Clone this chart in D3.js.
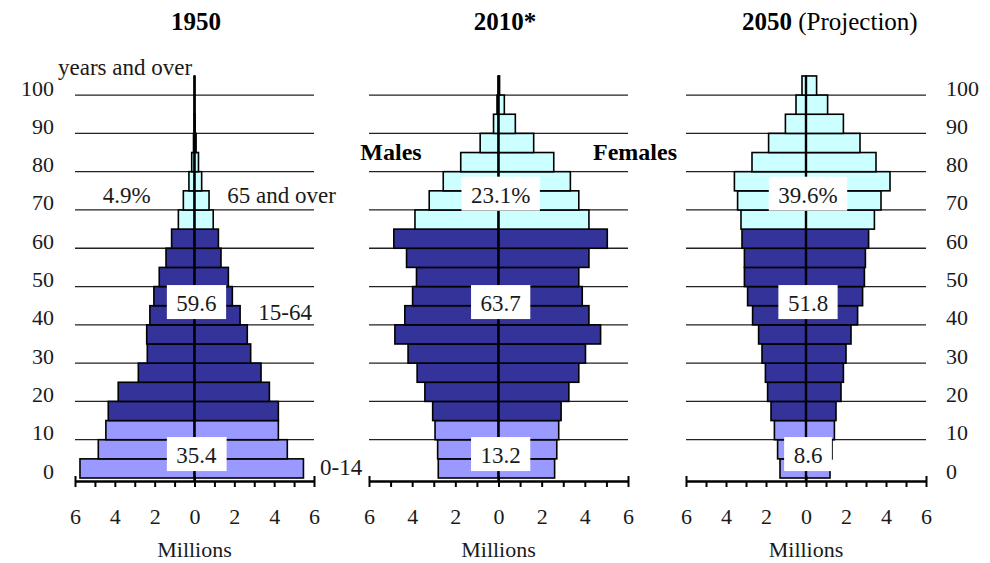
<!DOCTYPE html>
<html>
<head>
<meta charset="utf-8">
<script src="https://cdn.jsdelivr.net/npm/d3@7"></script>
<style>
  body { margin: 0; background: #fff; }
  svg { display: block; font-family: "Liberation Serif", "Times New Roman", serif; }
</style>
</head>
<body>
<script>
// ---------------- DATA ----------------
const ageGroups = ["0-4","5-9","10-14","15-19","20-24","25-29","30-34","35-39","40-44","45-49",
  "50-54","55-59","60-64","65-69","70-74","75-79","80-84","85-89","90-94","95-99","100+"];
const ageTicks = [0,10,20,30,40,50,60,70,80,90,100];
const xTickValues = [-6,-5,-4,-3,-2,-1,0,1,2,3,4,5,6];
const years = ["1950", "2010*", "2050"];
const yearNotes = ["", "", " (Projection)"];

// population in millions
const males1950   = [5.75,4.83,4.45,4.33,3.83,2.82,2.37,2.40,2.24,2.04,1.77,1.43,1.15,0.81,0.56,0.28,0.14,0.05,0.02,0.01,0.005];
const females1950 = [5.47,4.66,4.21,4.21,3.76,3.34,2.82,2.65,2.29,1.90,1.70,1.33,1.20,0.94,0.73,0.36,0.20,0.08,0.03,0.01,0.005];
const males2010   = [2.79,2.82,2.94,3.05,3.41,3.77,4.19,4.80,4.34,3.98,3.80,4.26,4.85,3.87,3.21,2.56,1.75,0.85,0.23,0.07,0.01];
const females2010 = [2.60,2.70,2.79,2.90,3.26,3.72,4.03,4.73,4.19,3.88,3.72,4.19,5.04,4.19,3.72,3.33,2.56,1.63,0.78,0.27,0.05];
const males2050   = [1.30,1.42,1.58,1.75,1.92,2.03,2.20,2.37,2.67,2.92,3.08,3.08,3.20,3.25,3.42,3.58,2.70,1.87,1.03,0.50,0.20];
const females2050 = [1.20,1.30,1.42,1.50,1.75,1.87,2.00,2.25,2.58,2.83,2.92,2.97,3.13,3.42,3.75,4.20,3.50,2.70,1.87,1.08,0.53];

// share of population (%) per broad age group: 0-14, 15-64, 65 and over
const share1950 = ["35.4", "59.6", "4.9%"];
const share2010 = ["13.2", "63.7", "23.1%"];
const share2050 = ["8.6", "51.8", "39.6%"];
const groupNames = ["0-14", "15-64", "65 and over"];

// ---------------- LAYOUT ----------------
const W = 990, H = 563;
const colors = ["#9999ff", "#333399", "#ccffff"];
const groupOf = i => (i < 3 ? 0 : i < 13 ? 1 : 2);

const panels = [
  { males: males1950, females: females1950, share: share1950, range: [75, 314], titleX: 196 },
  { males: males2010, females: females2010, share: share2010, range: [369, 628], titleX: 505 },
  { males: males2050, females: females2050, share: share2050, range: [686, 926], titleX: 742 }
];

const y = d3.scaleLinear().domain([0, 105]).range([478, 75.95]);
const bandTop = i => y((i + 1) * 5);
const bandBot = i => y(i * 5);

const svg = d3.select("body").append("svg").attr("width", W).attr("height", H);

const txtColor = "#1a1a1a";

panels.forEach((p, pi) => {
  const x = d3.scaleLinear().domain([-6, 6]).range(p.range);
  const g = svg.append("g");

  // gridlines
  g.selectAll("line.grid").data(ageTicks.filter(v => v > 0)).join("line")
    .attr("class", "grid")
    .attr("x1", p.range[0]).attr("x2", p.range[1])
    .attr("y1", d => y(d)).attr("y2", d => y(d))
    .attr("stroke", "#222").attr("stroke-width", 1.3);

  // bars
  const rows = ageGroups.map((a, i) => ({ i, m: p.males[i], f: p.females[i] }));
  g.selectAll("rect.m").data(rows).join("rect")
    .attr("class", "m")
    .attr("x", d => x(-d.m)).attr("width", d => x(0) - x(-d.m))
    .attr("y", d => bandTop(d.i)).attr("height", d => bandBot(d.i) - bandTop(d.i))
    .attr("fill", d => colors[groupOf(d.i)])
    .attr("stroke", "#000").attr("stroke-width", 1.6);
  g.selectAll("rect.f").data(rows).join("rect")
    .attr("class", "f")
    .attr("x", x(0)).attr("width", d => x(d.f) - x(0))
    .attr("y", d => bandTop(d.i)).attr("height", d => bandBot(d.i) - bandTop(d.i))
    .attr("fill", d => colors[groupOf(d.i)])
    .attr("stroke", "#000").attr("stroke-width", 1.6);

  // centre line
  g.append("line")
    .attr("x1", x(0)).attr("x2", x(0))
    .attr("y1", y(0) + 3).attr("y2", y(105))
    .attr("stroke", "#000").attr("stroke-width", 2.4);

  // x axis
  const axis = d3.axisBottom(x).tickValues(xTickValues)
    .tickFormat(d => (d % 2 === 0 ? Math.abs(d) : ""))
    .tickSize(6).tickSizeOuter(0).tickPadding(21);
  const ax = g.append("g").attr("transform", `translate(0,${y(0) + 3})`).call(axis);
  ax.select(".domain").attr("stroke", "#000").attr("stroke-width", 2.6);
  ax.selectAll(".tick line").attr("stroke", "#000").attr("stroke-width", 2)
    .attr("y1", d => (d === 0 || Math.abs(d) === 6 ? -5 : 0));
  ax.selectAll(".tick text").attr("fill", txtColor)
    .style("font-size", "22px").style("font-family", "Liberation Serif");

  // Millions
  g.append("text").attr("x", x(0)).attr("y", 557)
    .attr("text-anchor", "middle").attr("fill", txtColor)
    .style("font-size", "22px").text("Millions");

  // title
  const t = g.append("text").attr("x", p.titleX).attr("y", 29.5)
    .attr("text-anchor", pi === 2 ? "start" : "middle").attr("fill", "#000")
    .style("font-size", "25px");
  t.append("tspan").style("font-weight", "bold").text(years[pi]);
  if (yearNotes[pi]) t.append("tspan").text(yearNotes[pi]);

  // share boxes
  const boxAges = [3.9, 43.6, 71.9];
  p.share.forEach((s, k) => {
    if (pi === 0 && k === 2) return; // 1950 elderly share is plain text
    const bg = g.append("g");
    const tx = bg.append("text").attr("x", x(0.1)).attr("y", y(boxAges[k]))
      .attr("text-anchor", "middle").attr("fill", txtColor)
      .style("font-size", "23px").text(s);
    const bb = tx.node().getBBox();
    bg.insert("rect", "text")
      .attr("x", bb.x - 9.5).attr("width", bb.width + 19)
      .attr("y", y(boxAges[k]) - 26).attr("height", 34)
      .attr("fill", "#fff");
  });

  if (pi === 0) {
    const ann = [
      { t: p.share[2], xv: -3.4, age: 71.8, anchor: "middle" },
      { t: groupNames[2], xv: 1.65, age: 71.8, anchor: "start" },
      { t: groupNames[1], xv: 3.2, age: 41.3, anchor: "start" },
      { t: groupNames[0], xv: 6.3, age: 0.8, anchor: "start" }
    ];
    g.selectAll("text.ann").data(ann).join("text").attr("class", "ann")
      .attr("x", d => x(d.xv)).attr("y", d => y(d.age))
      .attr("text-anchor", d => d.anchor).attr("fill", txtColor)
      .style("font-size", "23px").text(d => d.t);
    // y axis labels left
    const ya = d3.axisLeft(y).tickValues(ageTicks).tickSize(0).tickPadding(0);
    const yg = g.append("g").attr("transform", "translate(54,0)").call(ya);
    yg.select(".domain").remove();
    yg.selectAll("text").attr("dy", "0").attr("fill", txtColor)
      .style("font-size", "22px").style("font-family", "Liberation Serif");
    g.append("text").attr("x", 58).attr("y", y(105) - 1)
      .attr("fill", txtColor).style("font-size", "23px").text("years and over");
  }
  if (pi === 1) {
    g.append("text").attr("x", x(-6.4)).attr("y", y(83.05))
      .attr("fill", "#000").style("font-size", "24px").style("font-weight", "bold").text("Males");
    g.append("text").attr("x", x(4.38)).attr("y", y(83.05))
      .attr("fill", "#000").style("font-size", "24px").style("font-weight", "bold").text("Females");
  }
  if (pi === 2) {
    const ya = d3.axisRight(y).tickValues(ageTicks).tickSize(0).tickPadding(0);
    const yg = g.append("g").attr("transform", "translate(946,0)").call(ya);
    yg.select(".domain").remove();
    yg.selectAll("text").attr("dy", "0").attr("fill", txtColor)
      .style("font-size", "22px").style("font-family", "Liberation Serif");
  }
});
</script>
</body>
</html>
